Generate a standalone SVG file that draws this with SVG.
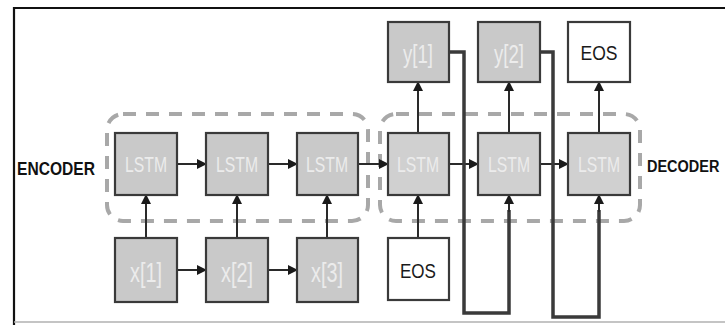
<svg xmlns="http://www.w3.org/2000/svg" width="725" height="325" viewBox="0 0 725 325">
<defs>
<marker id="ah" viewBox="0 0 10 10" refX="9" refY="5" markerWidth="5" markerHeight="5" orient="auto" markerUnits="strokeWidth">
<path d="M0,0 L10,5 L0,10 z" fill="#1a1a1a"/>
</marker>
<style>
.box{fill:#c9c9c9;stroke:#3a3a3a;stroke-width:2.2}
.dbox{fill:#d0d0d0;stroke:#3a3a3a;stroke-width:2.2}
.wbox{fill:#ffffff;stroke:#3a3a3a;stroke-width:2.2}
.lt{font-family:"Liberation Sans",Arial,sans-serif;fill:#ececec;text-anchor:middle}
.dk{font-family:"Liberation Sans",Arial,sans-serif;fill:#1a1a1a;text-anchor:middle}
.lbl{font-family:"Liberation Sans",Arial,sans-serif;font-weight:bold;fill:#111;font-size:18px}
.grp{fill:none;stroke:#a8a8a8;stroke-width:4;stroke-dasharray:13 10}
.c{fill:none;stroke:#2a2a2a;stroke-width:2;marker-end:url(#ah)}
.fb{fill:none;stroke:#3a3a3a;stroke-width:3.5}
</style>
</defs>
<rect width="725" height="325" fill="#ffffff"/>
<g id="frame">
<line x1="13" y1="8" x2="725" y2="8" stroke="#111" stroke-width="2.2"/>
<line x1="14" y1="7" x2="14" y2="325" stroke="#111" stroke-width="2.2"/>
<line x1="14" y1="322" x2="725" y2="322" stroke="#b0b0b0" stroke-width="1.5"/>
</g>
<g id="groups">
<rect class="grp" x="107" y="114" width="261" height="107" rx="16"/>
<rect class="grp" x="380" y="114" width="260" height="107" rx="16"/>
</g>
<g id="labels">
<text class="lbl" x="17" y="175" textLength="78" lengthAdjust="spacingAndGlyphs">ENCODER</text>
<text class="lbl" x="0" y="0" font-size="14.5" style="font-size:14.5px" transform="translate(647,172) scale(1,1.2)">DECODER</text>
</g>
<g id="connectors">
<line class="c" x1="177" y1="164" x2="206" y2="164"/>
<line class="c" x1="268" y1="164" x2="297" y2="164"/>
<line class="c" x1="358" y1="164" x2="388" y2="164"/>
<line class="c" x1="449" y1="164" x2="478" y2="164"/>
<line class="c" x1="540" y1="164" x2="568" y2="164"/>
<line class="c" x1="177" y1="270" x2="206" y2="270"/>
<line class="c" x1="268" y1="270" x2="297" y2="270"/>
<line class="c" x1="146" y1="238" x2="146" y2="195"/>
<line class="c" x1="237" y1="238" x2="237" y2="195"/>
<line class="c" x1="327" y1="238" x2="327" y2="195"/>
<line class="c" x1="418" y1="238" x2="418" y2="195"/>
<line class="c" x1="418" y1="133" x2="418" y2="82"/>
<line class="c" x1="509" y1="133" x2="509" y2="82"/>
<line class="c" x1="599" y1="133" x2="599" y2="82"/>
<polyline class="fb" points="449,52 464,52 464,313 509,313 509,210"/>
<polyline class="fb" points="540,52 553,52 553,317 599,317 599,210"/>
<line class="c" x1="509" y1="212" x2="509" y2="195"/>
<line class="c" x1="599" y1="212" x2="599" y2="195"/>
</g>
<g id="enc_lstm1"><rect class="box" x="115" y="133" width="62" height="62"/><text class="lt" x="146" y="172" font-size="22" textLength="42" lengthAdjust="spacingAndGlyphs">LSTM</text></g>
<g id="enc_lstm2"><rect class="box" x="206" y="133" width="62" height="62"/><text class="lt" x="237" y="172" font-size="22" textLength="42" lengthAdjust="spacingAndGlyphs">LSTM</text></g>
<g id="enc_lstm3"><rect class="box" x="297" y="133" width="61" height="62"/><text class="lt" x="327" y="172" font-size="22" textLength="42" lengthAdjust="spacingAndGlyphs">LSTM</text></g>
<g id="x1"><rect class="box" x="115" y="238" width="62" height="64"/><text class="lt" x="146" y="282" font-size="27" textLength="32" lengthAdjust="spacingAndGlyphs">x[1]</text></g>
<g id="x2"><rect class="box" x="206" y="238" width="62" height="64"/><text class="lt" x="237" y="282" font-size="27" textLength="32" lengthAdjust="spacingAndGlyphs">x[2]</text></g>
<g id="x3"><rect class="box" x="297" y="238" width="61" height="64"/><text class="lt" x="327" y="282" font-size="27" textLength="32" lengthAdjust="spacingAndGlyphs">x[3]</text></g>
<g id="dec_lstm1"><rect class="dbox" x="388" y="133" width="61" height="62"/><text class="lt" x="418" y="172" font-size="22" textLength="42" lengthAdjust="spacingAndGlyphs">LSTM</text></g>
<g id="dec_lstm2"><rect class="dbox" x="478" y="133" width="62" height="62"/><text class="lt" x="509" y="172" font-size="22" textLength="42" lengthAdjust="spacingAndGlyphs">LSTM</text></g>
<g id="dec_lstm3"><rect class="dbox" x="568" y="133" width="62" height="62"/><text class="lt" x="599" y="172" font-size="22" textLength="42" lengthAdjust="spacingAndGlyphs">LSTM</text></g>
<g id="y1"><rect class="box" x="388" y="22" width="61" height="60"/><text class="lt" x="418" y="63" font-size="26" textLength="30" lengthAdjust="spacingAndGlyphs">y[1]</text></g>
<g id="y2"><rect class="box" x="478" y="22" width="62" height="60"/><text class="lt" x="509" y="63" font-size="26" textLength="30" lengthAdjust="spacingAndGlyphs">y[2]</text></g>
<g id="eos_out"><rect class="wbox" x="568" y="22" width="62" height="60"/><text class="dk" x="599" y="60" font-size="20" textLength="37" lengthAdjust="spacingAndGlyphs">EOS</text></g>
<g id="eos_in"><rect class="wbox" x="388" y="238" width="61" height="62"/><text class="dk" x="418" y="278" font-size="21" textLength="36" lengthAdjust="spacingAndGlyphs">EOS</text></g>
</svg>
